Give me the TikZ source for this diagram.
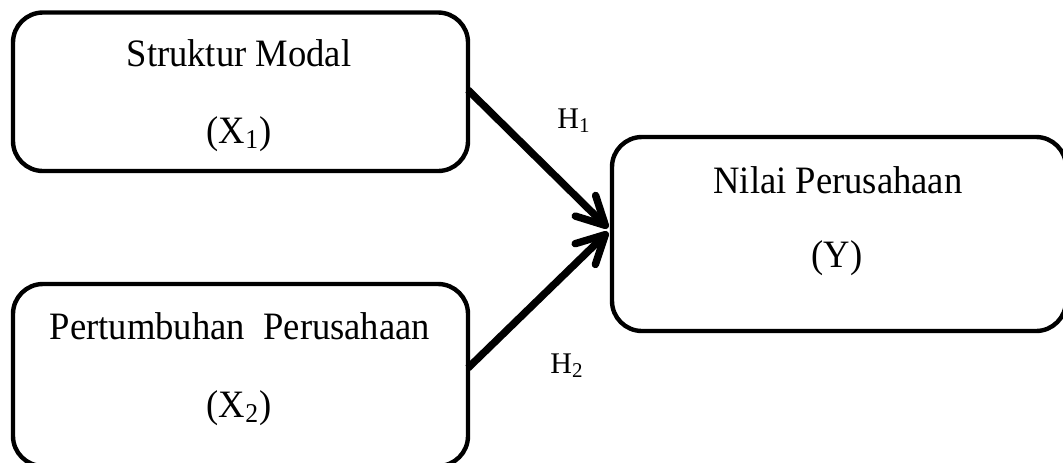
\documentclass[tikz,border=0pt]{standalone}
\usepackage{fontspec}
\setmainfont{Liberation Serif}
\usetikzlibrary{arrows.meta}
\tikzset{
  varbox/.style={draw=black, line width=2.2pt, rounded corners=15pt, rectangle,
    inner sep=0pt, outer sep=0pt, fill=white},
  boxtext/.style={anchor=base, inner sep=0pt, yscale=1.06, font=\fontsize{18.3pt}{22pt}\selectfont},
  hlabel/.style={anchor=base west, inner sep=0pt, font=\fontsize{15pt}{18pt}\selectfont},
  link/.style={line width=3.7pt, -{Straight Barb[length=14pt,width=14.5pt,round]}}
}
\begin{document}
\begin{tikzpicture}[x=0.5pt,y=-0.5pt]
\useasboundingbox (0,0) rectangle (1063,462);
\node[varbox, minimum width=227.5pt, minimum height=79.25pt] (b1) at (240.5,91.75) {};
\node[varbox, minimum width=227.5pt, minimum height=91pt] (b2) at (240.5,375) {};
\node[varbox, minimum width=227pt, minimum height=97pt] (b3) at (839,234) {};
\node[boxtext] (t1a) at (239,66) {Struktur Modal};
\node[boxtext] (t1b) at (239,143) {(X\textsubscript{1})};
\node[boxtext] (t2a) at (240,339) {Pertumbuhan\ \ Perusahaan};
\node[boxtext] (t2b) at (239,417) {(X\textsubscript{2})};
\node[boxtext] (t3a) at (838,193) {Nilai Perusahaan};
\node[boxtext] (t3b) at (837,267) {(Y)};
\node[hlabel] (h1) at (557,128) {H\textsubscript{1}};
\node[hlabel] (h2) at (550,373) {H\textsubscript{2}};
\coordinate (e1) at ([xshift=-2pt,yshift=3pt]b3.west);
\coordinate (e2) at ([xshift=-2pt,yshift=1pt]b3.west);
\draw[link] ([yshift=0.9pt]b1.east) -- (e1);
\draw[link] ([yshift=3.5pt]b2.east) -- (e2);
\end{tikzpicture}
\end{document}
